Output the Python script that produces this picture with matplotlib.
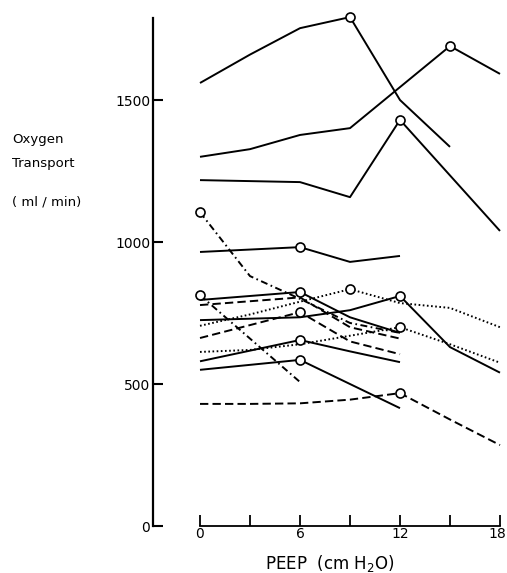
import numpy as np
import matplotlib
matplotlib.use("Agg")
import matplotlib.pyplot as plt
from matplotlib.transforms import ScaledTranslation

nan = np.nan

# PEEP levels (cm H2O)
peep = [0, 3, 6, 9, 12, 15, 18]

# oxygen transport (ml/min) per patient, aligned to peep, nan = not measured
pat1 = [1560, 1660, 1753, 1792, 1500, 1335, nan]
pat2 = [1300, 1327, 1377, 1401, nan, 1690, 1592]
pat3 = [1218, nan, 1211, 1158, 1430, nan, 1039]
pat4 = [965, nan, 982, 930, 951, nan, nan]
pat5 = [1105, 880, 800, 715, 680, nan, nan]
pat6 = [813, 660, 507, nan, nan, nan, nan]
pat7 = [796, nan, 824, 735, 680, nan, nan]
pat8 = [778, nan, 805, 700, 660, nan, nan]
pat9 = [705, 745, 790, 834, 785, 768, 700]
pat10 = [725, nan, 735, 760, 810, 630, 540]
pat11 = [662, nan, 753, 650, 605, nan, nan]
pat12 = [613, 620, 640, 670, 700, 640, 575]
pat13 = [580, nan, 655, 615, 577, nan, nan]
pat14 = [550, nan, 585, 500, 415, nan, nan]
pat15 = [430, 430, 432, 445, 468, 375, 285]

patients = [pat1, pat2, pat3, pat4, pat5, pat6, pat7, pat8,
            pat9, pat10, pat11, pat12, pat13, pat14, pat15]
# PEEP with the highest transport (open circle), None = not marked
best_peep = [9, 15, 12, 6, 0, 0, 6, None, 9, 12, 6, 12, 6, 6, 12]

# line styles
solid = "-"
dashed = (0, (6, 3))
dotted = (0, (1.2, 1.8))
dashdot = (0, (5, 2.5, 1.2, 2.5))
styles = [solid, solid, solid, solid, dashdot, dashdot, solid, dashed,
          dotted, solid, dashed, dotted, solid, solid, dashed]

plt.rcParams["lines.scale_dashes"] = False
plt.rcParams["font.family"] = ["DejaVu Sans"]

fig = plt.figure(figsize=(5.07, 5.73), dpi=100)
ax = fig.add_axes([150 / 507, 43 / 573, 355 / 507, 520 / 573])

for vals, ls, bp in zip(patients, styles, best_peep):
    x = np.array(peep, dtype=float)
    y = np.array(vals, dtype=float)
    ok = ~np.isnan(y)
    ax.plot(x[ok], y[ok], color="black", lw=1.4, linestyle=ls,
            solid_capstyle="butt", zorder=2)
    if bp is not None:
        ax.plot([bp], [y[peep.index(bp)]], marker="o", ms=6.5, mfc="white",
                mec="black", mew=1.2, linestyle="none", zorder=3,
                clip_on=False)

ax.set_xlim(-3.0, 18.3)
ax.set_ylim(-14, 1817)

for s in ["top", "right"]:
    ax.spines[s].set_visible(False)
ax.spines["left"].set_position(("data", -2.82))
ax.spines["left"].set_bounds(0, 1790)
ax.spines["bottom"].set_position(("data", 0))
ax.spines["bottom"].set_bounds(0, 18)
ax.spines["left"].set_linewidth(1.6)
ax.spines["bottom"].set_linewidth(1.3)

ax.set_yticks([0, 500, 1000, 1500])
ax.set_yticklabels(["0", "500", "1000", "1500"])
ax.tick_params(axis="y", direction="in", length=7, width=1.5, pad=2,
               labelsize=10)

ax.set_xticks([0, 6, 12, 18])
ax.set_xticks([3, 9, 15], minor=True)
ax.set_xticklabels(["0", "6", "12", "18"])
ax.tick_params(axis="x", which="both", direction="in", length=8, width=1.3,
               pad=1, labelsize=10)
# nudge the last label so it stays inside the figure edge
last = ax.get_xticklabels()[-1]
last.set_transform(last.get_transform() + ScaledTranslation(-2.2 / 72, 0, fig.dpi_scale_trans))

fig.text(12 / 507, 1 - 140 / 573, "Oxygen", fontsize=9.5, ha="left", va="center")
fig.text(12 / 507, 1 - 164 / 573, "Transport", fontsize=9.5, ha="left", va="center")
fig.text(12 / 507, 1 - 202 / 573, "( ml / min)", fontsize=9.5, ha="left", va="center")
fig.text(330 / 507, 1 - 563 / 573, "PEEP  (cm H$_2$O)", fontsize=12,
         ha="center", va="center")

fig.savefig("out.png", dpi=100)
